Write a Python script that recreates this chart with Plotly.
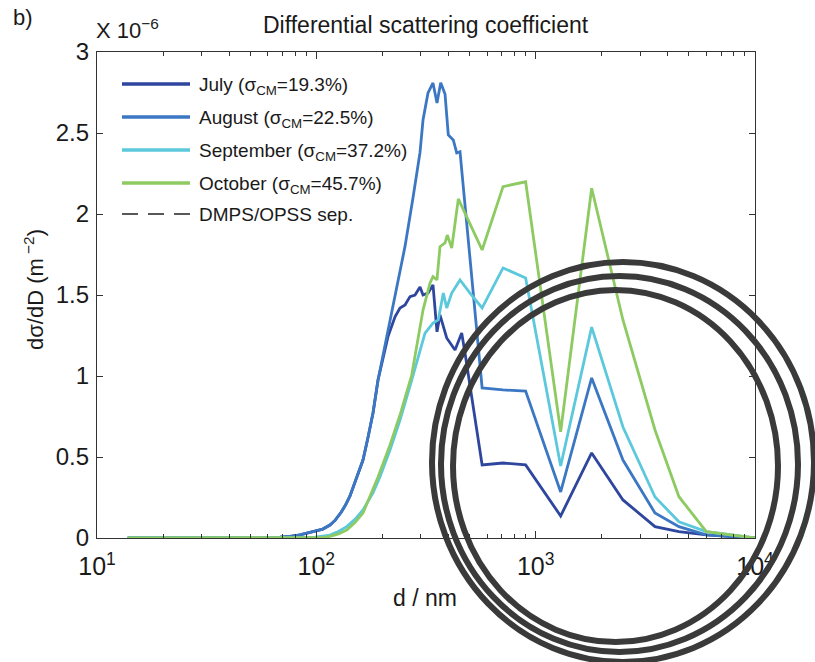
import plotly.graph_objects as go

# ---------------- data (y in units of 1e-6 m^-2) ----------------
d_july = [13.8, 29.5, 40.5, 50, 58.4, 68.3, 76, 84.2, 98.6, 107, 115.4, 122, 130.0, 136, 142.4, 152, 163.2, 172, 181.3, 191.1,
          212.2, 228.4, 240.7, 253.7, 267.4, 281.8, 297.0, 306.5, 322.9, 340.3, 354.9, 366.2,
          393.0, 428.8, 460.0, 476.2, 491.5, 570, 710, 900, 1300, 1800, 2500, 3500, 4500, 6000, 10000]
y_july = [0, 0, 0, 0, 0.002, 0.005, 0.01, 0.02, 0.04, 0.055, 0.08, 0.11, 0.16, 0.205, 0.26, 0.36, 0.481, 0.62, 0.772, 0.975,
          1.243, 1.366, 1.420, 1.438, 1.490, 1.500, 1.549, 1.500, 1.512, 1.562, 1.273, 1.377,
          1.235, 1.160, 1.265, 1.142, 1.019, 0.451, 0.463, 0.451, 0.136, 0.525, 0.235, 0.070, 0.039, 0.019, 0]

d_aug = [13.8, 29.5, 40.5, 50, 58.4, 68.3, 76, 84.2, 98.6, 107, 115.4, 122, 130.0, 136, 142.4, 152, 163.2, 172, 181.3, 191.1,
         228.4, 253.7, 275.9, 297.0, 306.5, 322.9, 340.3, 354.9, 369.0, 386.1, 399.6, 421.2,
         436.5, 451.9, 570, 710, 900, 1300, 1800, 2500, 3500, 4500, 6000, 10000]
y_aug = [0, 0, 0, 0, 0.002, 0.005, 0.01, 0.02, 0.04, 0.055, 0.08, 0.11, 0.16, 0.205, 0.26, 0.36, 0.481, 0.62, 0.772, 0.975,
         1.49, 1.80, 2.10, 2.38, 2.58, 2.747, 2.809, 2.685, 2.81, 2.741, 2.488, 2.457,
         2.377, 2.385, 0.926, 0.914, 0.907, 0.284, 0.988, 0.481, 0.154, 0.070, 0.019, 0]

d_sep = [13.8, 29.5, 50, 68.3, 84.2, 98.6, 107, 115.4, 126, 137.6, 150, 163.2, 181.3, 195.1, 216.7, 240.7,
         272.2, 313.0, 340.3, 359.8, 379.2, 393.0, 414.3, 451.9, 501.9, 570, 710, 900, 1300,
         1800, 2500, 3500, 4500, 6000, 10000]
y_sep = [0, 0, 0, 0, 0.003, 0.006, 0.01, 0.018, 0.04, 0.07, 0.115, 0.173, 0.278, 0.378, 0.543, 0.728,
         0.975, 1.265, 1.327, 1.346, 1.512, 1.420, 1.512, 1.593, 1.512, 1.420, 1.667, 1.605, 0.444,
         1.302, 0.685, 0.253, 0.100, 0.039, 0]

d_oct = [13.8, 29.5, 50, 68.3, 84.2, 98.6, 107, 115.4, 126, 137.6, 150, 163.2, 191.1, 216.7, 240.7, 272.2,
         286.9, 306.5, 329.9, 340.3, 354.9, 366.2, 386.1, 395.4, 414.3, 444.0, 570, 710, 900,
         1300, 1800, 2500, 3500, 4500, 6000, 10000]
y_oct = [0, 0, 0, 0, 0.001, 0.002, 0.004, 0.01, 0.025, 0.049, 0.095, 0.154, 0.377, 0.574, 0.759, 1.006,
         1.181, 1.407, 1.574, 1.613, 1.593, 1.798, 1.821, 1.870, 1.790, 2.093, 1.778, 2.169, 2.199,
         0.656, 2.159, 1.346, 0.667, 0.255, 0.039, 0]

series_names = ["July (σ<sub>CM</sub>=19.3%)", "August (σ<sub>CM</sub>=22.5%)",
                "September (σ<sub>CM</sub>=37.2%)", "October (σ<sub>CM</sub>=45.7%)"]
sep_name = "DMPS/OPSS sep."
colors = ["#2E469E", "#3B77C3", "#5CC8DC", "#8DCB62"]

x_tick_vals = [10, 100, 1000, 10000]
x_tick_text = ["10<sup>1</sup>", "10<sup>2</sup>", "10<sup>3</sup>", "10<sup>4</sup>"]
x_minor_vals = [m * 10 ** e for e in range(1, 4) for m in range(2, 10)]
y_tick_vals = [0, 0.5, 1, 1.5, 2, 2.5, 3]
y_tick_text = ["0", "0.5", "1", "1.5", "2", "2.5", "3"]

FONT = "Liberation Sans, Arial, sans-serif"
TXT = "#1a1a1a"

fig = go.Figure()
for xs, ys, c in zip([d_july, d_aug, d_sep, d_oct], [y_july, y_aug, y_sep, y_oct], colors):
    fig.add_trace(go.Scatter(x=xs, y=ys, mode="lines", line=dict(color=c, width=2.8),
                             showlegend=False, hoverinfo="skip"))

# ---------------- layout geometry (pixels -> paper) ----------------
L, R, T, B = 97, 755, 52, 538
W, H = R - L, B - T
def px(x): return (x - L) / W
def py(y): return (B - y) / H

shapes = []
annotations = []

# custom legend
rows = [84, 117, 150, 183, 214]
for i, (name, c) in enumerate(zip(series_names, colors)):
    shapes.append(dict(type="line", xref="paper", yref="paper", x0=px(122), x1=px(190),
                       y0=py(rows[i]), y1=py(rows[i]), line=dict(color=c, width=3.5)))
    annotations.append(dict(text=name, xref="paper", yref="paper", x=px(197), y=py(rows[i] + 2),
                            xanchor="left", yanchor="middle", showarrow=False,
                            font=dict(family=FONT, size=19, color=TXT)))
shapes.append(dict(type="line", xref="paper", yref="paper", x0=px(122), x1=px(190),
                   y0=py(rows[4]), y1=py(rows[4]), line=dict(color="#222", width=1.3, dash="16px,10px")))
annotations.append(dict(text=sep_name, xref="paper", yref="paper", x=px(197), y=py(rows[4]),
                        xanchor="left", yanchor="middle", showarrow=False,
                        font=dict(family=FONT, size=19, color=TXT)))

# titles / labels
annotations += [
    dict(text="b)", xref="paper", yref="paper", x=px(23), y=py(18), xanchor="center", yanchor="middle",
         showarrow=False, font=dict(family=FONT, size=22, color=TXT)),
    dict(text="X 10<sup>−6</sup>", xref="paper", yref="paper", x=px(94), y=py(29), xanchor="left",
         yanchor="middle", showarrow=False, font=dict(family=FONT, size=22, color=TXT)),
    dict(text="Differential scattering coefficient", xref="paper", yref="paper", x=px(426), y=py(25),
         xanchor="center", yanchor="middle", showarrow=False, font=dict(family=FONT, size=23, color=TXT)),
    dict(text="d / nm", xref="paper", yref="paper", x=px(425), y=py(598), xanchor="center",
         yanchor="middle", showarrow=False, font=dict(family=FONT, size=23, color=TXT)),
    dict(text="dσ/dD (m<sup> −2</sup>)", xref="paper", yref="paper", x=px(34), y=py(290),
         xanchor="center", yanchor="middle", textangle=-90, showarrow=False,
         font=dict(family=FONT, size=22, color=TXT)),
]

# hand-drawn scribble overlay (approximate loops)
scribble = [(432, 814, 262, 662), (441, 798, 276, 652), (453, 778, 290, 642)]
for x0, x1, y0, y1 in scribble:
    shapes.append(dict(type="circle", xref="paper", yref="paper", x0=px(x0), x1=px(x1),
                       y0=py(y1), y1=py(y0), line=dict(color="#3a3a3a", width=6), layer="above"))

fig.update_layout(
    width=815, height=662, autosize=False,
    margin=dict(l=L, r=815 - R, t=T, b=662 - B),
    paper_bgcolor="white", plot_bgcolor="white",
    shapes=shapes, annotations=annotations, showlegend=False,
    font=dict(family=FONT, color=TXT),
)
fig.update_xaxes(type="log", range=[1, 4], tickvals=x_tick_vals, ticktext=x_tick_text,
                 ticks="inside", ticklen=7, tickwidth=1, tickcolor="#333",
                 minor=dict(tickvals=x_minor_vals, ticks="inside", ticklen=4, tickcolor="#333"),
                 showline=True, linecolor="#333", linewidth=1.2, mirror="ticks",
                 showgrid=False, zeroline=False, ticklabelstandoff=6,
                 tickfont=dict(family=FONT, size=25, color=TXT))
fig.update_yaxes(range=[0, 3], tickvals=y_tick_vals, ticktext=y_tick_text,
                 ticks="inside", ticklen=6, tickwidth=1, tickcolor="#333",
                 showline=True, linecolor="#333", linewidth=1.2, mirror="ticks",
                 showgrid=False, zeroline=False, ticklabelstandoff=2,
                 tickfont=dict(family=FONT, size=24, color=TXT))

fig.write_html("out.html")
